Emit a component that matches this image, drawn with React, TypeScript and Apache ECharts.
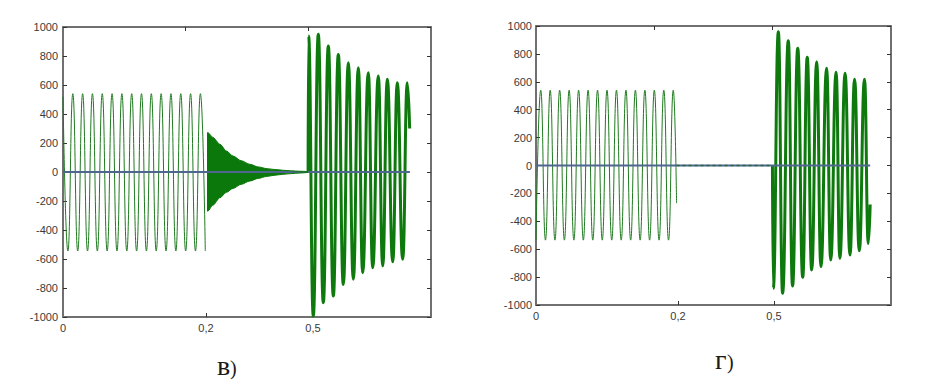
import React, { useEffect, useRef } from "react";
import * as echarts from "echarts";

// ---------- axes ----------
const X_MIN = 0;
const X_MAX = 0.75;
const Y_MIN = -1000;
const Y_MAX = 1000;
const Y_STEP = 200;
const TOP_TICKS = [0.25, 0.5];
const X_LABEL_TEXT = ["0", "0,2", "0,5"];
const C1_X_LABEL_POS = [0, 0.2914, 0.5095];
const C2_X_LABEL_POS = [0, 0.3, 0.5028];
const CAPTIONS = ["в", "г"];

// ---------- chart в) ----------
const c1Seg1T = [0, 0.01, 0.02, 0.03, 0.04, 0.05, 0.06, 0.07, 0.08, 0.09, 0.1, 0.11, 0.12, 0.13, 0.14, 0.15, 0.16, 0.17, 0.18, 0.19, 0.2, 0.21, 0.22, 0.23, 0.24, 0.25, 0.26, 0.27, 0.28, 0.29];
const c1Seg1V = [520, -545, 540, -545, 540, -545, 540, -545, 540, -545, 540, -545, 540, -545, 540, -545, 540, -545, 540, -545, 540, -545, 540, -545, 540, -545, 540, -545, 540, -545];

const c1BandT = [0.2935, 0.2955, 0.305, 0.32, 0.333, 0.3465, 0.363, 0.381, 0.398, 0.416, 0.432, 0.448, 0.465, 0.483, 0.499];
const c1BandUpper = [270, 271, 240, 191, 145, 110, 78, 53, 35, 23, 17, 12, 8, 5, 3];
const c1BandLower = [-270, -269, -230, -177, -140, -113, -85, -62, -44, -30, -22, -16, -11, -7, -3];

const c1Seg3T = [0.4995, 0.5005, 0.5101, 0.5203, 0.5305, 0.5407, 0.5509, 0.5611, 0.5713, 0.5815, 0.5917, 0.6019, 0.6108, 0.6222, 0.6312, 0.6426, 0.6516, 0.661, 0.672, 0.6813, 0.6923, 0.7017, 0.7065];
const c1Seg3V = [0, 938, -993, 950, -901, 869, -855, 811, -775, 754, -740, 719, -694, 685, -660, 662, -648, 639, -619, 616, -602, 616, 300];

const c1ZeroT = [0, 0.707];
const c1ZeroV = [0, 0];

// ---------- chart г) ----------
const c2Seg1T = [0, 0.01, 0.02, 0.03, 0.04, 0.05, 0.06, 0.07, 0.08, 0.09, 0.1, 0.11, 0.12, 0.13, 0.14, 0.15, 0.16, 0.17, 0.18, 0.19, 0.2, 0.21, 0.22, 0.23, 0.24, 0.25, 0.26, 0.27, 0.28, 0.29, 0.297];
const c2Seg1V = [-535, 540, -535, 540, -535, 540, -535, 540, -535, 540, -535, 540, -535, 540, -535, 540, -535, 540, -535, 540, -535, 540, -535, 540, -535, 540, -535, 540, -535, 540, -270];

const c2GapT = [0.297, 0.5];
const c2GapV = [0, 0];

const c2Seg3T = [0.4995, 0.5013, 0.512, 0.521, 0.533, 0.542, 0.553, 0.5635, 0.573, 0.5825, 0.593, 0.602, 0.614, 0.6226, 0.634, 0.642, 0.653, 0.6634, 0.673, 0.683, 0.694, 0.702, 0.706];
const c2Seg3V = [0, -880, 959, -916, 895, -864, 840, -801, 776, -749, 744, -725, 697, -677, 668, -665, 661, -642, 618, -612, 618, -560, -280];

const c2ZeroT = [0, 0.706];
const c2ZeroV = [0, 0];

// ---------- styles ----------
const AXIS_COLOR = "#707070";
const TICK_COLOR = "#333333";
const LABEL_COLOR = "#3a3a3a";
const THIN_GREEN = "#1f7a1f";
const THICK_GREEN = "#0e7a0e";
const BAND_GREEN = "#0b780b";
const ZERO_BLUE = "#4f6690";
const LABEL_FONT = "Liberation Sans";
const SERIF = '"Liberation Serif"';

const zip = (t: number[], v: number[]) => t.map((x, i) => [x, v[i]]);

const nearestLabel = (pos: number[], val: number) => {
  let best = 0;
  for (let i = 1; i < pos.length; i++) {
    if (Math.abs(pos[i] - val) < Math.abs(pos[best] - val)) best = i;
  }
  return X_LABEL_TEXT[best];
};

function xAxes(gridIndex: number, labelPos: number[]) {
  return [
    {
      type: "value",
      gridIndex,
      position: "bottom",
      min: X_MIN,
      max: X_MAX,
      axisLine: { show: true, onZero: false, lineStyle: { color: AXIS_COLOR, width: 2 } },
      axisTick: { show: true, inside: true, length: 4, customValues: labelPos.slice(1), lineStyle: { color: TICK_COLOR } },
      axisLabel: {
        show: true,
        customValues: labelPos,
        formatter: (v: number) => nearestLabel(labelPos, v),
        color: LABEL_COLOR,
        fontSize: 11,
        fontFamily: LABEL_FONT,
        margin: 5,
      },
      splitLine: { show: false },
    },
    {
      type: "value",
      gridIndex,
      position: "top",
      min: X_MIN,
      max: X_MAX,
      axisLine: { show: true, onZero: false, lineStyle: { color: AXIS_COLOR, width: 2 } },
      axisTick: { show: true, inside: true, length: 4, customValues: TOP_TICKS, lineStyle: { color: TICK_COLOR } },
      axisLabel: { show: false },
      splitLine: { show: false },
    },
  ];
}

function yAxes(gridIndex: number, margin: number) {
  return [
    {
      type: "value",
      gridIndex,
      position: "left",
      min: Y_MIN,
      max: Y_MAX,
      interval: Y_STEP,
      axisLine: { show: true, onZero: false, lineStyle: { color: AXIS_COLOR, width: 2 } },
      axisTick: { show: true, inside: true, length: 4, lineStyle: { color: TICK_COLOR } },
      axisLabel: {
        color: LABEL_COLOR,
        fontSize: 11,
        fontFamily: LABEL_FONT,
        margin,
        formatter: (v: number) => String(v),
      },
      splitLine: { show: false },
    },
    {
      type: "value",
      gridIndex,
      position: "right",
      min: Y_MIN,
      max: Y_MAX,
      interval: Y_STEP,
      axisLine: { show: true, onZero: false, lineStyle: { color: AXIS_COLOR, width: 2 } },
      axisTick: { show: true, inside: true, length: 4, lineStyle: { color: TICK_COLOR } },
      axisLabel: { show: false },
      splitLine: { show: false },
    },
  ];
}

function lineSeries(xi: number, yi: number, data: number[][], color: string, width: number, extra: any = {}) {
  return {
    type: "line",
    xAxisIndex: xi,
    yAxisIndex: yi,
    data,
    symbol: "none",
    showSymbol: false,
    silent: true,
    smooth: 0.5,
    smoothMonotone: "x",
    lineStyle: { color, width },
    ...extra,
  };
}

export default function App() {
  const ref = useRef<HTMLDivElement>(null);

  useEffect(() => {
    if (!ref.current) return;
    const chart = echarts.init(ref.current, undefined, { renderer: "svg" });

    const option: any = {
      animation: false,
      backgroundColor: "#ffffff",
      grid: [
        { left: 63, top: 27, width: 368, height: 290 },
        { left: 536, top: 26, width: 355, height: 279 },
      ],
      xAxis: [...xAxes(0, C1_X_LABEL_POS), ...xAxes(1, C2_X_LABEL_POS)],
      yAxis: [...yAxes(0, 5), ...yAxes(1, 4)],
      series: [
        // chart в)
        lineSeries(0, 0, zip(c1Seg1T, c1Seg1V), THIN_GREEN, 1),
        lineSeries(0, 0, zip(c1Seg3T, c1Seg3V), THICK_GREEN, 3),
        lineSeries(0, 0, zip(c1ZeroT, c1ZeroV), ZERO_BLUE, 2, { smooth: false }),
        lineSeries(0, 0, zip(c1BandT, c1BandUpper), BAND_GREEN, 1, {
          areaStyle: { color: BAND_GREEN, opacity: 1 },
          smooth: 0.3,
        }),
        lineSeries(0, 0, zip(c1BandT, c1BandLower), BAND_GREEN, 1, {
          areaStyle: { color: BAND_GREEN, opacity: 1 },
          smooth: 0.3,
        }),
        // chart г)
        lineSeries(2, 2, zip(c2Seg1T, c2Seg1V), THIN_GREEN, 1),
        lineSeries(2, 2, zip(c2Seg3T, c2Seg3V), THICK_GREEN, 3),
        lineSeries(2, 2, zip(c2ZeroT, c2ZeroV), ZERO_BLUE, 2, { smooth: false }),
        lineSeries(2, 2, zip(c2GapT, c2GapV), "#2a6a3a", 1.5, {
          smooth: false,
          lineStyle: { color: "#2a6a3a", width: 1.5, type: [3, 3] },
        }),
      ],
      graphic: [
        { type: "text", x: 217, y: 365, style: { text: CAPTIONS[0], font: `28px ${SERIF}`, fill: "#1a1a1a", verticalAlign: "middle" } },
        { type: "text", x: 230, y: 367.5, style: { text: ")", font: `20px ${SERIF}`, fill: "#1a1a1a", verticalAlign: "middle" } },
        { type: "text", x: 715, y: 359, style: { text: CAPTIONS[1], font: `28px ${SERIF}`, fill: "#1a1a1a", verticalAlign: "middle" } },
        { type: "text", x: 727, y: 361.5, style: { text: ")", font: `20px ${SERIF}`, fill: "#1a1a1a", verticalAlign: "middle" } },
      ],
    };

    chart.setOption(option);
    return () => chart.dispose();
  }, []);

  return (
    <div
      ref={ref}
      style={{ position: "absolute", left: 0, top: 0, width: 934, height: 379, background: "#fff" }}
    />
  );
}
